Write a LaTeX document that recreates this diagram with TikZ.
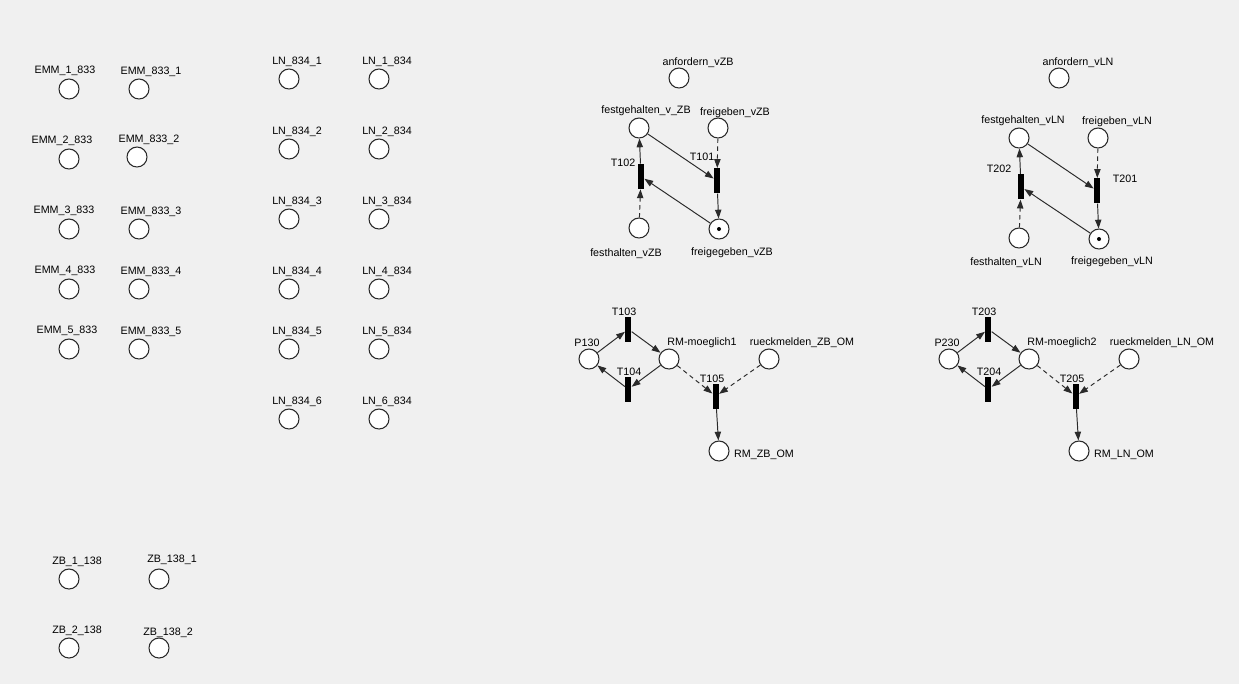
\documentclass[tikz,border=0pt]{standalone}
\usepackage{fontspec}
\setmainfont{Liberation Sans}
\usetikzlibrary{arrows.meta}
\definecolor{canvas}{HTML}{F0F0F0}
\definecolor{rim}{HTML}{2A2A2A}
\tikzset{
  place/.style={circle, draw=rim, fill=white, line width=0.6pt,
                minimum size=0.4cm, inner sep=0pt},
  trans/.style={rectangle, fill=black, minimum width=0.12cm,
                minimum height=0.5cm, inner sep=0pt},
  tok/.style={circle, fill=black, minimum size=0.08cm, inner sep=0pt},
  lbl/.style={font=\fontsize{6.1}{7}\selectfont, inner sep=0pt, yshift=-0.03cm},
  ar/.style={-{Triangle[length=5pt,width=3.6pt]}, line width=0.55pt, draw=rim},
  ardash/.style={ar, dash pattern=on 2.5pt off 2pt}
}
\begin{document}
\begin{tikzpicture}[x=0.02cm,y=-0.02cm]
  \useasboundingbox (0,0) rectangle (1239,684);
  \fill[canvas] (0,0) rectangle (1239,684);

  % EMM places
  \node[place] (emm1a) at (69,89) {};   \node[lbl] (emm1a-l) at (65,69) {EMM\_1\_833};
  \node[place] (emm1b) at (139,89) {};  \node[lbl] (emm1b-l) at (151,70) {EMM\_833\_1};
  \node[place] (emm2a) at (69,159) {};  \node[lbl] (emm2a-l) at (62,139) {EMM\_2\_833};
  \node[place] (emm2b) at (137,157) {}; \node[lbl] (emm2b-l) at (149,138) {EMM\_833\_2};
  \node[place] (emm3a) at (69,229) {};  \node[lbl] (emm3a-l) at (64,209) {EMM\_3\_833};
  \node[place] (emm3b) at (139,229) {}; \node[lbl] (emm3b-l) at (151,210) {EMM\_833\_3};
  \node[place] (emm4a) at (69,289) {};  \node[lbl] (emm4a-l) at (65,269) {EMM\_4\_833};
  \node[place] (emm4b) at (139,289) {}; \node[lbl] (emm4b-l) at (151,270) {EMM\_833\_4};
  \node[place] (emm5a) at (69,349) {};  \node[lbl] (emm5a-l) at (67,329) {EMM\_5\_833};
  \node[place] (emm5b) at (139,349) {}; \node[lbl] (emm5b-l) at (151,330) {EMM\_833\_5};

  % LN places
  \node[place] (ln1a) at (289,79) {};  \node[lbl] (ln1a-l) at (297,60) {LN\_834\_1};
  \node[place] (ln1b) at (379,79) {};  \node[lbl] (ln1b-l) at (387,60) {LN\_1\_834};
  \node[place] (ln2a) at (289,149) {}; \node[lbl] (ln2a-l) at (297,130) {LN\_834\_2};
  \node[place] (ln2b) at (379,149) {}; \node[lbl] (ln2b-l) at (387,130) {LN\_2\_834};
  \node[place] (ln3a) at (289,219) {}; \node[lbl] (ln3a-l) at (297,200) {LN\_834\_3};
  \node[place] (ln3b) at (379,219) {}; \node[lbl] (ln3b-l) at (387,200) {LN\_3\_834};
  \node[place] (ln4a) at (289,289) {}; \node[lbl] (ln4a-l) at (297,270) {LN\_834\_4};
  \node[place] (ln4b) at (379,289) {}; \node[lbl] (ln4b-l) at (387,270) {LN\_4\_834};
  \node[place] (ln5a) at (289,349) {}; \node[lbl] (ln5a-l) at (297,330) {LN\_834\_5};
  \node[place] (ln5b) at (379,349) {}; \node[lbl] (ln5b-l) at (387,330) {LN\_5\_834};
  \node[place] (ln6a) at (289,419) {}; \node[lbl] (ln6a-l) at (297,400) {LN\_834\_6};
  \node[place] (ln6b) at (379,419) {}; \node[lbl] (ln6b-l) at (387,400) {LN\_6\_834};

  % ZB places
  \node[place] (zb1a) at (69,579) {};  \node[lbl] (zb1a-l) at (77,560) {ZB\_1\_138};
  \node[place] (zb1b) at (159,579) {}; \node[lbl] (zb1b-l) at (172,558) {ZB\_138\_1};
  \node[place] (zb2a) at (69,648) {};  \node[lbl] (zb2a-l) at (77,629) {ZB\_2\_138};
  \node[place] (zb2b) at (159,648) {}; \node[lbl] (zb2b-l) at (168,631) {ZB\_138\_2};

  % net vZB
  \node[place] (anf1) at (679,78) {};  \node[lbl] (anf1-l) at (698,61) {anfordern\_vZB};
  \node[place] (fgh1) at (639,128) {}; \node[lbl] (fgh1-l) at (646,109) {festgehalten\_v\_ZB};
  \node[place] (fgb1) at (718,128) {}; \node[lbl] (fgb1-l) at (735,111) {freigeben\_vZB};
  \node[trans] (t102) at (641,176.5) {}; \node[lbl] (t102-l) at (623,161) {T102};
  \node[trans] (t101) at (717,180.8) {}; \node[lbl] (t101-l) at (702,155) {T101};
  \node[place] (fhl1) at (639,228) {}; \node[lbl] (fhl1-l) at (626,252) {festhalten\_vZB};
  \node[place] (fgg1) at (719,229) {}; \node[lbl] (fgg1-l) at (732,251) {freigegeben\_vZB};
  \node[tok] (tok1) at (fgg1) {};

  \draw[ar] (fgh1) -- (t101);
  \draw[ardash] (fgb1) -- (t101);
  \draw[ar] (t101) -- (fgg1);
  \draw[ar] (fgg1) -- (t102);
  \draw[ardash] (fhl1) -- (t102);
  \draw[ar] (t102) -- (fgh1);

  % net vLN
  \node[place] (anf2) at (1059,78) {};  \node[lbl] (anf2-l) at (1078,61) {anfordern\_vLN};
  \node[place] (fgh2) at (1019,138) {}; \node[lbl] (fgh2-l) at (1023,119) {festgehalten\_vLN};
  \node[place] (fgb2) at (1098,138) {}; \node[lbl] (fgb2-l) at (1117,120) {freigeben\_vLN};
  \node[trans] (t202) at (1021,186.8) {}; \node[lbl] (t202-l) at (999,167) {T202};
  \node[trans] (t201) at (1097,190.8) {}; \node[lbl] (t201-l) at (1125,177) {T201};
  \node[place] (fhl2) at (1019,238) {}; \node[lbl] (fhl2-l) at (1006,261) {festhalten\_vLN};
  \node[place] (fgg2) at (1099,239) {}; \node[lbl] (fgg2-l) at (1112,260) {freigegeben\_vLN};
  \node[tok] (tok2) at (fgg2) {};

  \draw[ar] (fgh2) -- (t201);
  \draw[ardash] (fgb2) -- (t201);
  \draw[ar] (t201) -- (fgg2);
  \draw[ar] (fgg2) -- (t202);
  \draw[ardash] (fhl2) -- (t202);
  \draw[ar] (t202) -- (fgh2);

  % net RM ZB
  \node[trans] (t103) at (628.3,329.2) {}; \node[lbl] (t103-l) at (624,310) {T103};
  \node[place] (p130) at (589,359) {}; \node[lbl] (p130-l) at (587,341) {P130};
  \node[place] (rmm1) at (669,359) {}; \node[lbl] (rmm1-l) at (702,341) {RM-moeglich1};
  \node[place] (rck1) at (769,359) {}; \node[lbl] (rck1-l) at (802,341) {rueckmelden\_ZB\_OM};
  \node[trans] (t104) at (628.3,389.2) {}; \node[lbl] (t104-l) at (629,370) {T104};
  \node[trans] (t105) at (715.7,396.2) {}; \node[lbl] (t105-l) at (712,377) {T105};
  \node[place] (rmo1) at (719,451) {}; \node[lbl] (rmo1-l) at (764,453) {RM\_ZB\_OM};

  \draw[ar] (p130) -- (t103);
  \draw[ar] (t103) -- (rmm1);
  \draw[ar] (rmm1) -- (t104);
  \draw[ar] (t104) -- (p130);
  \draw[ardash] (rmm1) -- (t105);
  \draw[ardash] (rck1) -- (t105);
  \draw[ar] (t105) -- (rmo1);

  % net RM LN
  \node[trans] (t203) at (988.3,329.2) {}; \node[lbl] (t203-l) at (984,310) {T203};
  \node[place] (p230) at (949,359) {}; \node[lbl] (p230-l) at (947,341) {P230};
  \node[place] (rmm2) at (1029,359) {}; \node[lbl] (rmm2-l) at (1062,341) {RM-moeglich2};
  \node[place] (rck2) at (1129,359) {}; \node[lbl] (rck2-l) at (1162,341) {rueckmelden\_LN\_OM};
  \node[trans] (t204) at (988.3,389.2) {}; \node[lbl] (t204-l) at (989,370) {T204};
  \node[trans] (t205) at (1075.7,396.2) {}; \node[lbl] (t205-l) at (1072,377) {T205};
  \node[place] (rmo2) at (1079,451) {}; \node[lbl] (rmo2-l) at (1124,453) {RM\_LN\_OM};

  \draw[ar] (p230) -- (t203);
  \draw[ar] (t203) -- (rmm2);
  \draw[ar] (rmm2) -- (t204);
  \draw[ar] (t204) -- (p230);
  \draw[ardash] (rmm2) -- (t205);
  \draw[ardash] (rck2) -- (t205);
  \draw[ar] (t205) -- (rmo2);
\end{tikzpicture}
\end{document}
